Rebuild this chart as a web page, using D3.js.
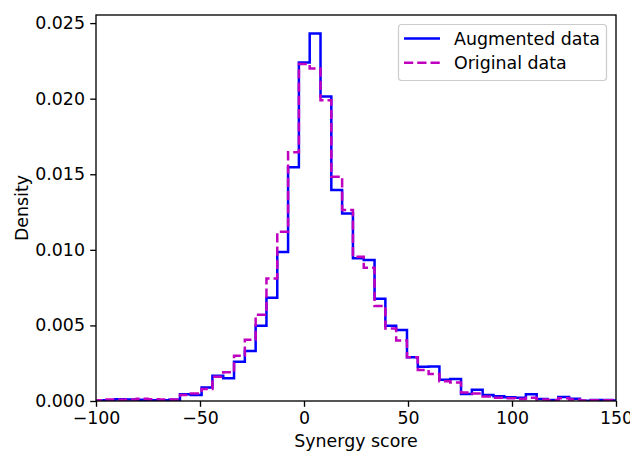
<!DOCTYPE html>
<html>
<head>
<meta charset="utf-8">
<script src="https://cdn.jsdelivr.net/npm/d3@7"></script>
<style>
  html, body { margin: 0; padding: 0; background: #fff; }
  svg { display: block; font-family: "DejaVu Sans", sans-serif; }
</style>
</head>
<body>
<svg id="chart" width="630" height="452"></svg>
<script>
// Histogram bins (shared by both series): start and width of each bin
const binStart = -101.2;
const binWidth = 5.197;

// Density per bin, augmented data set
const augmented = [
  0.00003, 0.00005, 0.00012, 0.00010, 0.00008, 0.00005, 0.00005, 0.00008,
  0.00044, 0.00040, 0.00090, 0.00167, 0.00150, 0.00260, 0.00331, 0.00498,
  0.00683, 0.00985, 0.01546, 0.02240, 0.02432, 0.02015, 0.01396, 0.01240,
  0.00944, 0.00933, 0.00677, 0.00498, 0.00470, 0.00290, 0.00227, 0.00228,
  0.00140, 0.00146, 0.00046, 0.00075, 0.00040, 0.00031, 0.00025, 0.00022,
  0.00044, 0.00013, 0.00007, 0.00026, 0.00015, 0.00002, 0.00006, 0.00006,
  0.00003
];

// Density per bin, original data set
const original = [
  0.00005, 0.00010, 0.00008, 0.00010, 0.00015, 0.00012, 0.00010, 0.00010,
  0.00040, 0.00050, 0.00080, 0.00160, 0.00190, 0.00300, 0.00405, 0.00571,
  0.00811, 0.01120, 0.01645, 0.02230, 0.02200, 0.01990, 0.01484, 0.01263,
  0.00954, 0.00882, 0.00628, 0.00480, 0.00400, 0.00290, 0.00205, 0.00178,
  0.00130, 0.00122, 0.00057, 0.00050, 0.00029, 0.00022, 0.00018, 0.00013,
  0.00022, 0.00010, 0.00005, 0.00018, 0.00010, 0.00003, 0.00005, 0.00005,
  0.00003
];

const xTicks = [-100, -50, 0, 50, 100, 150];
const yTicks = [0, 0.005, 0.010, 0.015, 0.020, 0.025];
const seriesNames = ["Augmented data", "Original data"];

const svg = d3.select("#chart");
const plotLeft = 96, plotRight = 616, plotTop = 15, plotBottom = 401;
const fontPx = 17.4;

const x = d3.scaleLinear().domain([-100, 150]).range([plotLeft, plotRight]);
const yMax = d3.max(augmented.concat(original)) * 1.05;
const y = d3.scaleLinear().domain([0, yMax]).range([plotBottom, plotTop]);

svg.append("defs").append("clipPath").attr("id", "plot-clip")
  .append("rect").attr("x", plotLeft).attr("y", plotTop)
  .attr("width", plotRight - plotLeft).attr("height", plotBottom - plotTop);

const edges = d3.range(augmented.length + 1).map(i => binStart + i * binWidth);

// Outline of a step histogram: up from the baseline, across each bin, back down
function stepPoints(vals) {
  const pts = [[edges[0], 0]];
  vals.forEach((v, i) => { pts.push([edges[i], v]); pts.push([edges[i + 1], v]); });
  pts.push([edges[vals.length], 0]);
  return pts;
}
const line = d3.line().x(d => x(d[0])).y(d => y(d[1]));

const plot = svg.append("g").attr("clip-path", "url(#plot-clip)");
plot.append("path").attr("d", line(stepPoints(augmented)))
  .attr("fill", "none").attr("stroke", "#0000ff").attr("stroke-width", 2.5)
  .attr("stroke-linejoin", "miter");
plot.append("path").attr("d", line(stepPoints(original)))
  .attr("fill", "none").attr("stroke", "#bf00bf").attr("stroke-width", 2.5)
  .attr("stroke-dasharray", "9.25,4").attr("stroke-linejoin", "miter");

// Axes
const minus = s => s.replace("-", "\u2212");
const xAxis = d3.axisBottom(x).tickValues(xTicks).tickSize(5.8).tickPadding(5.2)
  .tickFormat(d => minus(String(d)));
const yAxis = d3.axisLeft(y).tickValues(yTicks).tickSize(5.8).tickPadding(5.2)
  .tickFormat(d3.format(".3f"));

const gx = svg.append("g").attr("transform", `translate(0,${plotBottom})`).call(xAxis);
const gy = svg.append("g").attr("transform", `translate(${plotLeft},0)`).call(yAxis);
[gx, gy].forEach(g => {
  g.select(".domain").remove();
  g.selectAll(".tick line").attr("stroke", "#000").attr("stroke-width", 1.33);
  g.selectAll(".tick text").attr("fill", "#000")
    .style("font-size", fontPx + "px").style("font-family", "DejaVu Sans");
});

// Frame
svg.append("rect").attr("x", plotLeft).attr("y", plotTop)
  .attr("width", plotRight - plotLeft).attr("height", plotBottom - plotTop)
  .attr("fill", "none").attr("stroke", "#000").attr("stroke-width", 1.33);

// Axis titles
svg.append("text").attr("x", (plotLeft + plotRight) / 2).attr("y", 447)
  .attr("text-anchor", "middle").style("font-size", fontPx + "px")
  .text("Synergy score");
svg.append("text")
  .attr("transform", `translate(28,${(plotTop + plotBottom) / 2}) rotate(-90)`)
  .attr("text-anchor", "middle").style("font-size", fontPx + "px")
  .text("Density");

// Legend
const lg = svg.append("g");
lg.append("rect").attr("x", 398.5).attr("y", 24.5).attr("width", 208).attr("height", 56)
  .attr("rx", 3).attr("fill", "#fff").attr("fill-opacity", 0.8)
  .attr("stroke", "#cccccc").attr("stroke-width", 1.2);
const styles = [
  { color: "#0000ff", dash: null },
  { color: "#bf00bf", dash: "9.25,4" }
];
seriesNames.forEach((name, i) => {
  const cy = 38.5 + i * 24.3;
  lg.append("line").attr("x1", 404).attr("x2", 440).attr("y1", cy).attr("y2", cy)
    .attr("stroke", styles[i].color).attr("stroke-width", 2.5)
    .attr("stroke-dasharray", styles[i].dash);
  lg.append("text").attr("x", 454).attr("y", cy).attr("dy", "0.35em")
    .style("font-size", fontPx + "px").text(name);
});
</script>
</body>
</html>
